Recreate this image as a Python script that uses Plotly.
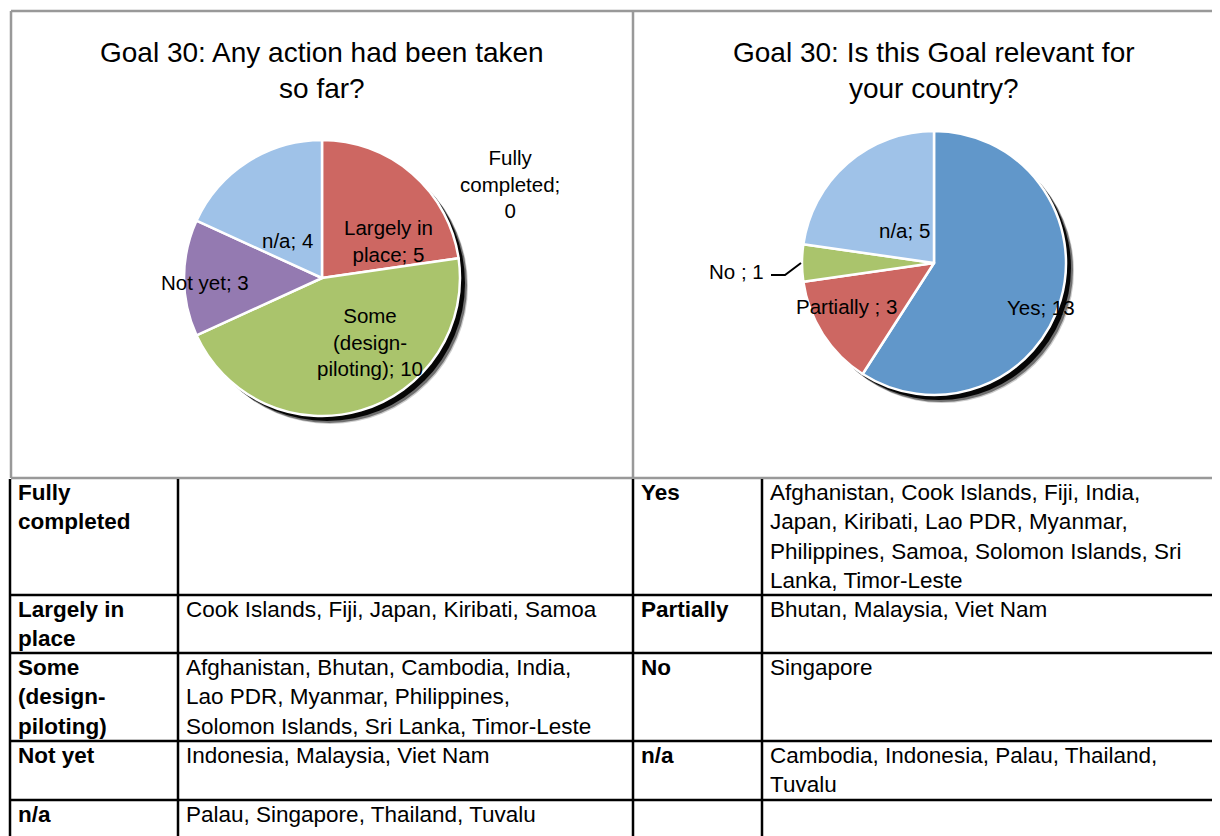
import plotly.graph_objects as go

# page body has an 8px margin; the figure fills the rest of the 1220x836 window
OFF = 8
W, H = 1220 - OFF, 836 - OFF

# ---------------- data ----------------
action_categories = ["Fully completed", "Largely in place", "Some (design-piloting)", "Not yet", "n/a"]
action_values = [0, 5, 10, 3, 4]
action_label_names = ["Fully<br>completed;<br>", "Largely in<br>place; ", "Some<br>(design-<br>piloting); ", "Not yet; ", "n/a; "]
action_colors = ["#4F81BD", "#CD6762", "#AAC46C", "#947AB1", "#9FC2E8"]

relevant_categories = ["Yes", "Partially", "No", "n/a"]
relevant_values = [13, 3, 1, 5]
relevant_label_names = ["Yes; ", "Partially ; ", "No ; ", "n/a; "]
relevant_colors = ["#6197CA", "#CD6762", "#AAC46C", "#9FC2E8"]

title_left = "Goal 30: Any action had been taken<br>so far?"
title_right = "Goal 30: Is this Goal relevant for<br>your country?"

table_left_heads = ["Fully<br>completed", "Largely in<br>place", "Some<br>(design-<br>piloting)", "Not yet", "n/a"]
table_left_countries = [
    "",
    "Cook Islands, Fiji, Japan, Kiribati, Samoa",
    "Afghanistan, Bhutan, Cambodia, India,<br>Lao PDR, Myanmar, Philippines,<br>Solomon Islands, Sri Lanka, Timor-Leste",
    "Indonesia, Malaysia, Viet Nam",
    "Palau, Singapore, Thailand, Tuvalu",
]
table_right_heads = ["Yes", "Partially", "No", "n/a", ""]
table_right_countries = [
    "Afghanistan, Cook Islands, Fiji, India,<br>Japan, Kiribati, Lao PDR, Myanmar,<br>Philippines, Samoa, Solomon Islands, Sri<br>Lanka, Timor-Leste",
    "Bhutan, Malaysia, Viet Nam",
    "Singapore",
    "Cambodia, Indonesia, Palau, Thailand,<br>Tuvalu",
    "",
]

# ---------------- layout / style ----------------
FONT = "Liberation Sans, Arial, sans-serif"
PIES = {
    "left": dict(cx=322, cy=278, r=138),
    "right": dict(cx=934, cy=263, r=132),
}
# label centre positions (window pixels) for each slice label
LEFT_LABEL_POS = [(510, 184), (388, 241), (370, 342), (205, 282), (287, 241)]
RIGHT_LABEL_POS = [(1041, 307), (846, 306), (736, 271), (904, 231)]

ROW_EDGES = [478, 595, 653, 741, 800, 840]
COL_X = [10, 178, 633, 762, 1222]
BOX_TOP, BOX_LEFT, BOX_MID = 11, 11, 633


def px(x):
    return (x - OFF) / W


def py(y):
    return 1 - (y - OFF) / H


def domain(p, dx=0, dy=0):
    cx, cy, r = p["cx"] + dx, p["cy"] + dy, p["r"]
    return dict(x=[px(cx - r), px(cx + r)], y=[py(cy + r), py(cy - r)])


fig = go.Figure()

for key, vals in (("left", action_values), ("right", relevant_values)):
    p = PIES[key]
    # soft shadow layers
    for off, col in ((8, "rgba(0,0,0,0.2)"), (7, "rgba(0,0,0,0.45)"), (5, "rgba(0,0,0,0.95)")):
        fig.add_trace(go.Pie(values=[sum(vals)], domain=domain(p, off, off), sort=False,
                             marker=dict(colors=[col], line=dict(width=0)),
                             textinfo="none", hoverinfo="skip", showlegend=False))

fig.add_trace(go.Pie(labels=action_categories, values=action_values, domain=domain(PIES["left"]),
                     sort=False, direction="clockwise", rotation=0,
                     marker=dict(colors=action_colors, line=dict(color="white", width=2.5)),
                     textinfo="none", showlegend=False))
fig.add_trace(go.Pie(labels=relevant_categories, values=relevant_values, domain=domain(PIES["right"]),
                     sort=False, direction="clockwise", rotation=0,
                     marker=dict(colors=relevant_colors, line=dict(color="white", width=2.5)),
                     textinfo="none", showlegend=False))

ann = []
# titles
for t, cx in ((title_left, PIES["left"]["cx"]), (title_right, PIES["right"]["cx"])):
    ann.append(dict(text=t, x=px(cx), y=py(70), xref="paper", yref="paper", showarrow=False,
                    xanchor="center", yanchor="middle", align="center",
                    font=dict(family=FONT, size=28, color="black")))
# slice labels
for name, v, (x, y) in zip(action_label_names, action_values, LEFT_LABEL_POS):
    ann.append(dict(text=f"{name}{v}", x=px(x), y=py(y), xref="paper", yref="paper", showarrow=False,
                    xanchor="center", yanchor="middle", align="center",
                    font=dict(family=FONT, size=20.5, color="black")))
for name, v, (x, y) in zip(relevant_label_names, relevant_values, RIGHT_LABEL_POS):
    ann.append(dict(text=f"{name}{v}", x=px(x), y=py(y), xref="paper", yref="paper", showarrow=False,
                    xanchor="center", yanchor="middle", align="center",
                    font=dict(family=FONT, size=20.5, color="black")))

# table texts
for i in range(5):
    top = ROW_EDGES[i]
    for col_i, (txt, bold) in enumerate(((table_left_heads[i], True), (table_left_countries[i], False),
                                         (table_right_heads[i], True), (table_right_countries[i], False))):
        if not txt:
            continue
        ann.append(dict(text=f"<b>{txt}</b>" if bold else txt, x=px(COL_X[col_i] + 6), y=py(top),
                        xref="paper", yref="paper", showarrow=False, xanchor="left", yanchor="top",
                        align="left", font=dict(family=FONT, size=22.5, color="black")))

shapes = []
grey = dict(color="#999999", width=2.5)
black = dict(color="black", width=2.5)
# chart boxes
shapes.append(dict(type="line", x0=px(BOX_LEFT), x1=px(1225), y0=py(BOX_TOP), y1=py(BOX_TOP), xref="paper", yref="paper", line=grey))
shapes.append(dict(type="line", x0=px(BOX_LEFT), x1=px(BOX_LEFT), y0=py(BOX_TOP), y1=py(ROW_EDGES[0]), xref="paper", yref="paper", line=grey))
shapes.append(dict(type="line", x0=px(BOX_MID), x1=px(BOX_MID), y0=py(BOX_TOP), y1=py(ROW_EDGES[0]), xref="paper", yref="paper", line=grey))
shapes.append(dict(type="line", x0=px(BOX_LEFT), x1=px(1225), y0=py(ROW_EDGES[0]), y1=py(ROW_EDGES[0]), xref="paper", yref="paper", line=grey))
# table grid
for y in ROW_EDGES[1:-1]:
    shapes.append(dict(type="line", x0=px(COL_X[0]), x1=px(1225), y0=py(y), y1=py(y), xref="paper", yref="paper", line=black))
for x in COL_X[:-1]:
    shapes.append(dict(type="line", x0=px(x), x1=px(x), y0=py(ROW_EDGES[0] + 1), y1=py(845), xref="paper", yref="paper", line=black))
# leader line for "No ; 1"
shapes.append(dict(type="path", path=f"M {px(771)},{py(275)} L {px(785)},{py(275)} L {px(801)},{py(263)}",
                   xref="paper", yref="paper", line=dict(color="black", width=2)))

fig.update_layout(width=W, height=H, margin=dict(l=0, r=0, t=0, b=0),
                  paper_bgcolor="white", plot_bgcolor="white",
                  annotations=ann, shapes=shapes, showlegend=False)

fig.write_html("out.html")
